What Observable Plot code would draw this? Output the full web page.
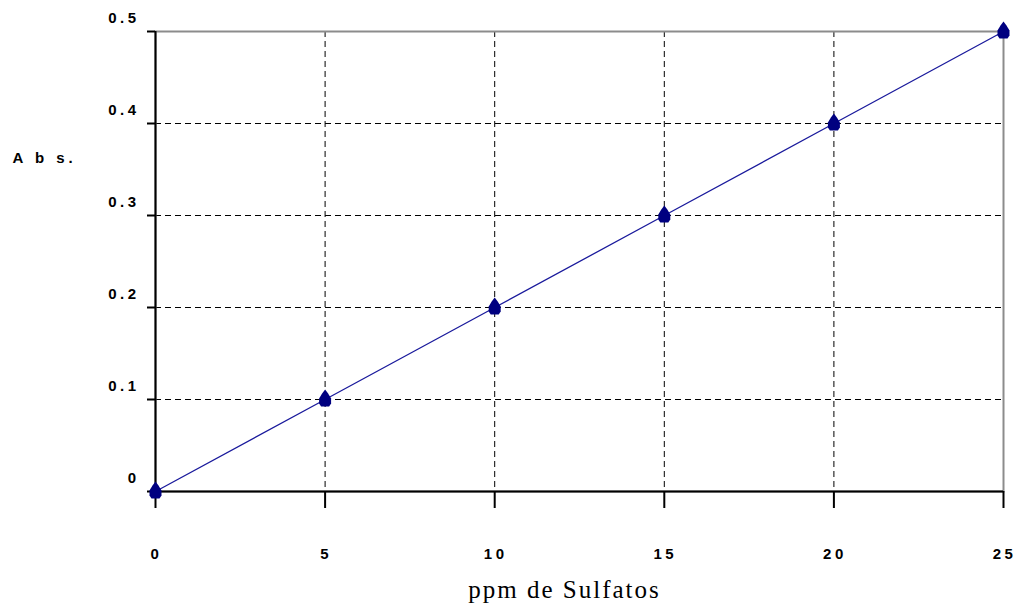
<!DOCTYPE html>
<html>
<head>
<meta charset="utf-8">
<script src="https://cdn.jsdelivr.net/npm/d3@7"></script>
<script src="https://cdn.jsdelivr.net/npm/@observablehq/plot@0.6"></script>
<style>
  html, body { margin: 0; padding: 0; background: #fff; }
  #chart svg { display: block; }
  #chart svg g[aria-label$="tick label"] text { letter-spacing: 3.5px; }
</style>
</head>
<body>
<div id="chart"></div>
<script>
// Data
const ppm = [0, 5, 10, 15, 20, 25];
const abs = [0, 0.1, 0.2, 0.3, 0.4, 0.5];
const xTicks = [0, 5, 10, 15, 20, 25];
const xTickLabels = ["0", "5", "10", "15", "20", "25"];
const yTicks = [0, 0.1, 0.2, 0.3, 0.4, 0.5];
const yTickLabels = ["0", "0.1", "0.2", "0.3", "0.4", "0.5"];
const xGrid = [5, 10, 15, 20];
const yGrid = [0.1, 0.2, 0.3, 0.4];
const xTitle = "ppm de Sulfatos";
const yTitle = "A b s.";

const points = ppm.map((x, i) => ({x, y: abs[i]}));

// Tall, slightly pointed marker like the original
const blob = {
  draw(ctx) {
    ctx.moveTo(0, -10);
    ctx.lineTo(3, -6);
    ctx.lineTo(6, -1);
    ctx.lineTo(6, 4);
    ctx.lineTo(4, 7);
    ctx.lineTo(-4, 7);
    ctx.lineTo(-6, 4);
    ctx.lineTo(-6, -1);
    ctx.lineTo(-3, -6);
    ctx.closePath();
  }
};

const chart = Plot.plot({
  width: 1016,
  height: 613,
  marginLeft: 155,
  marginRight: 13,
  marginTop: 31,
  marginBottom: 122,
  style: {fontFamily: "'Liberation Sans', Arial, sans-serif", fontSize: "15px", color: "#000", background: "#fff", overflow: "visible"},
  x: {domain: [0, 25]},
  y: {domain: [0, 0.5]},
  marks: [
    Plot.gridX(xGrid, {stroke: "#000", strokeOpacity: 1, strokeWidth: 1, strokeDasharray: "6,4"}),
    Plot.gridY(yGrid, {stroke: "#000", strokeOpacity: 1, strokeWidth: 1, strokeDasharray: "6,4"}),
    Plot.frame({stroke: "#8c8c8c", strokeWidth: 2}),
    Plot.ruleX([0], {stroke: "#000", strokeWidth: 2}),
    Plot.ruleY([0], {stroke: "#000", strokeWidth: 2}),
    // tick lines
    Plot.axisX(xTicks, {tickSize: 17, strokeWidth: 2, label: null, text: null}),
    Plot.axisY(yTicks, {tickSize: 8, strokeWidth: 2, label: null, text: null}),
    // tick labels
    Plot.axisX(xTicks, {tickSize: 0, tickPadding: 57, label: null, fontWeight: "bold",
      tickFormat: (d, i) => xTickLabels[i], dx: 1}),
    Plot.axisY(yTicks, {tickSize: 0, tickPadding: 16, label: null, fontWeight: "bold",
      tickFormat: (d, i) => yTickLabels[i], dy: -13}),
    Plot.line(points, {x: "x", y: "y", stroke: "#1a1a9c", strokeWidth: 1.3}),
    Plot.dot(points, {x: "x", y: "y", symbol: blob, fill: "#000080", stroke: "none"}),
    Plot.text([yTitle], {text: d => d, frameAnchor: "left", textAnchor: "start", dx: -143, dy: -103,
      fill: "#000", fontWeight: "bold"}),
    Plot.text([xTitle], {text: d => d, frameAnchor: "bottom", dx: -15, dy: 106, fill: "#000",
      fontFamily: "'Liberation Serif', 'Times New Roman', serif", fontSize: 25, fontWeight: "normal"})
  ]
});

// letter spacing of the two titles, as in the original
d3.select(chart).selectAll("text")
  .filter(function() { return this.textContent === yTitle; })
  .style("letter-spacing", "4px");
d3.select(chart).selectAll("text")
  .filter(function() { return this.textContent === xTitle; })
  .style("letter-spacing", "2px");

document.getElementById("chart").appendChild(chart);
</script>
</body>
</html>
